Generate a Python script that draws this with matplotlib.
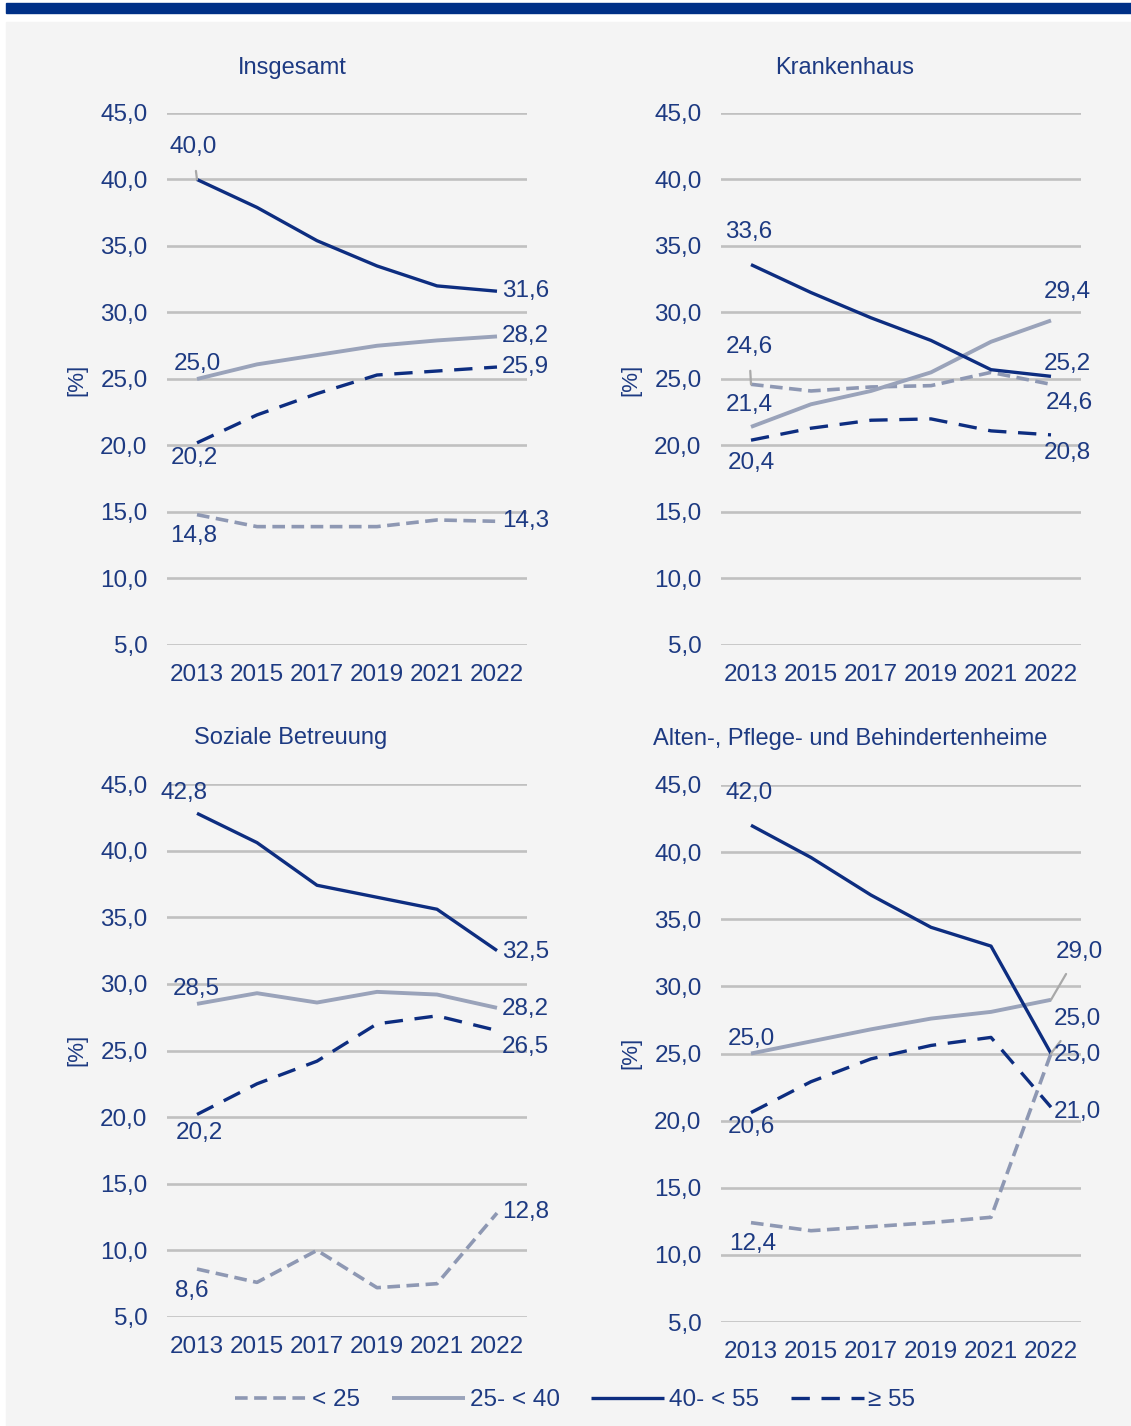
import matplotlib.pyplot as plt
from matplotlib.patches import Rectangle
from matplotlib.lines import Line2D

plt.rcParams['font.family'] = ['Liberation Sans', 'DejaVu Sans']

years = ['2013', '2015', '2017', '2019', '2021', '2022']
groups = ['< 25', '25- < 40', '40- < 55', '≥ 55']
titles = ['Insgesamt', 'Krankenhaus', 'Soziale Betreuung',
          'Alten-, Pflege- und Behindertenheime']

# values per panel, order: <25, 25-<40, 40-<55, >=55
insgesamt_u25 = [14.8, 13.9, 13.9, 13.9, 14.4, 14.3]
insgesamt_25_40 = [25.0, 26.1, 26.8, 27.5, 27.9, 28.2]
insgesamt_40_55 = [40.0, 37.9, 35.4, 33.5, 32.0, 31.6]
insgesamt_55 = [20.2, 22.3, 23.9, 25.3, 25.6, 25.9]

kh_u25 = [24.6, 24.1, 24.4, 24.5, 25.5, 24.6]
kh_25_40 = [21.4, 23.1, 24.1, 25.5, 27.8, 29.4]
kh_40_55 = [33.6, 31.5, 29.6, 27.9, 25.7, 25.2]
kh_55 = [20.4, 21.3, 21.9, 22.0, 21.1, 20.8]

soz_u25 = [8.6, 7.6, 10.0, 7.2, 7.5, 12.8]
soz_25_40 = [28.5, 29.3, 28.6, 29.4, 29.2, 28.2]
soz_40_55 = [42.8, 40.6, 37.4, 36.5, 35.6, 32.5]
soz_55 = [20.2, 22.5, 24.2, 27.0, 27.6, 26.5]

heim_u25 = [12.4, 11.8, 12.1, 12.4, 12.8, 25.0]
heim_25_40 = [25.0, 25.9, 26.8, 27.6, 28.1, 29.0]
heim_40_55 = [42.0, 39.6, 36.8, 34.4, 33.0, 25.0]
heim_55 = [20.6, 22.9, 24.6, 25.6, 26.2, 21.0]

panels = [
    [insgesamt_u25, insgesamt_25_40, insgesamt_40_55, insgesamt_55],
    [kh_u25, kh_25_40, kh_40_55, kh_55],
    [soz_u25, soz_25_40, soz_40_55, soz_55],
    [heim_u25, heim_25_40, heim_40_55, heim_55],
]

NAVY = '#0d2d80'
TEXT = '#1d3a82'
LIGHT = '#9aa3ba'
GRAYD = '#8e98b3'
styles = [
    dict(color=GRAYD, lw=2.6, dashes=(3.5, 1.8)),
    dict(color=LIGHT, lw=2.8),
    dict(color=NAVY, lw=2.4),
    dict(color=NAVY, lw=2.4, dashes=(5.5, 3.5)),
]

# label offsets in pixels (first point, last point), per panel and series
# entries: (dx, dy, ha, leader)
label_pos = [
    [[(-3, -21, 'center', False), (5, 0, 'left', False)],
     [(0, 15, 'center', False), (5, 0, 'left', False)],
     [(-4, 32, 'center', True), (5, 0, 'left', False)],
     [(-3, -15, 'center', False), (5, 0, 'left', False)]],
    [[(-2, 37, 'center', True), (18, -19, 'center', False)],
     [(-2, 22, 'center', False), (16, 28, 'center', False)],
     [(-2, 33, 'center', False), (16, 12, 'center', False)],
     [(0, -23, 'center', False), (16, -18, 'center', False)]],
    [[(-5, -22, 'center', False), (5, 1, 'left', False)],
     [(-1, 15, 'center', False), (5, -1, 'left', False)],
     [(-13, 20, 'center', False), (5, -1, 'left', False)],
     [(2, -19, 'center', False), (5, -16, 'left', False)]],
    [[(2, -21, 'center', False), (26, 34, 'center', True)],
     [(0, 14, 'center', False), (28, 48, 'center', True)],
     [(-2, 32, 'center', False), (26, -2, 'center', False)],
     [(0, -14, 'center', False), (26, -5, 'center', False)]],
]

W, H = 1131, 1426
fig = plt.figure(figsize=(W / 100, H / 100), dpi=100)
fig.patches.append(Rectangle((6 / W, 1 - 13 / H), 1 - 6 / W, 10 / H,
                             transform=fig.transFigure, color='#003087', zorder=-5))
fig.patches.append(Rectangle((6 / W, 0), 1 - 6 / W, 1 - 22 / H,
                             transform=fig.transFigure, color='#f4f4f4', zorder=-5))

boxes = [(167, 527, 113, 645), (721, 1081, 113, 645),
         (167, 527, 784, 1317), (721, 1081, 785, 1322)]
title_xy = [(292, 68), (845, 68), (291, 738), (850, 739)]
ylab_xy = [(77, 380), (631, 380), (77, 1050), (631, 1053)]

FS = 17.5


def fmt(v):
    return f'{v:.1f}'.replace('.', ',')


xs = list(range(len(years)))
for k, (l, r, t, b) in enumerate(boxes):
    ax = fig.add_axes([l / W, 1 - b / H, (r - l) / W, (b - t) / H])
    ax.set_facecolor('none')
    ax.set_xlim(-0.5, 5.5)
    ax.set_ylim(5, 45)
    ax.set_yticks(range(5, 50, 5))
    ax.set_yticklabels([fmt(v) for v in range(5, 50, 5)])
    ax.set_xticks(xs)
    ax.set_xticklabels(years)
    ax.tick_params(length=0, labelsize=FS, labelcolor=TEXT)
    ax.tick_params(axis='y', pad=14)
    ax.tick_params(axis='x', pad=14)
    for s in ax.spines.values():
        s.set_visible(False)
    ax.grid(axis='y', color='#c0c0c0', lw=1.9)
    ax.set_axisbelow(True)
    for j, vals in enumerate(panels[k]):
        ax.plot(xs, vals, solid_capstyle='butt', dash_capstyle='butt', **styles[j])
        for idx, (dx, dy, ha, leader) in zip([0, 5], label_pos[k][j]):
            ap = None
            if leader:
                ap = dict(arrowstyle='-', color='#a8a8a8', lw=1.6,
                          shrinkA=7, shrinkB=0)
            ax.annotate(fmt(vals[idx]), (xs[idx], vals[idx]), xytext=(dx, dy),
                        textcoords='offset pixels', ha=ha, va='center',
                        fontsize=FS, color=TEXT, arrowprops=ap,
                        annotation_clip=False)
    fig.text(title_xy[k][0] / W, 1 - title_xy[k][1] / H, titles[k],
             ha='center', va='center', fontsize=17, color=TEXT)
    fig.text(ylab_xy[k][0] / W, 1 - ylab_xy[k][1] / H, '[%]', rotation=90,
             ha='center', va='center', fontsize=16, color=TEXT)

handles = [Line2D([], [], solid_capstyle='butt', dash_capstyle='butt', **st)
           for st in styles]
fig.legend(handles, groups, loc='center', bbox_to_anchor=(575 / W, 1 - 1400 / H),
           ncol=4, frameon=False, fontsize=FS, handlelength=3.0,
           handletextpad=0.2, columnspacing=1.3, labelcolor=TEXT)

fig.savefig('out.png', dpi=100, facecolor='white')
